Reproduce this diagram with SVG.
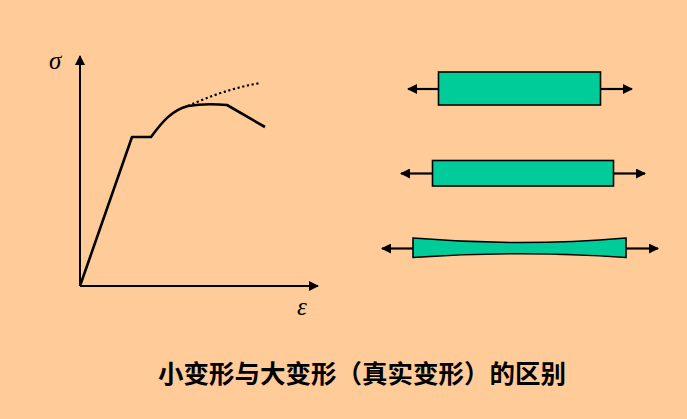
<svg xmlns="http://www.w3.org/2000/svg" width="687" height="419" viewBox="0 0 687 419">
<defs>
<marker id="ah" viewBox="0 0 10 10" refX="9" refY="5" markerWidth="10" markerHeight="10" markerUnits="userSpaceOnUse" orient="auto">
<path d="M0,0 L10,5 L0,10 Z" fill="#000"/>
</marker>
<style>
.ax{stroke:#000;stroke-width:2;fill:none}
.cv{stroke:#000;stroke-width:2.6;fill:none;stroke-linejoin:round}
.dot{stroke:#000;stroke-width:2.2;fill:none;stroke-dasharray:2.2 2.6}
.bar{fill:#00CC99;stroke:#000;stroke-width:1.6}
.ar{stroke:#000;stroke-width:2.2;fill:none}
.sym{font-family:"Liberation Serif",serif;font-style:italic;font-size:25px;fill:#000}
.title{font-family:"Noto Sans CJK SC",sans-serif;font-weight:bold;font-size:25.5px;fill:#000}
</style>
</defs>
<rect width="687" height="419" fill="#FFCC99"/>
<g id="axes">
<line class="ax" x1="80" y1="286" x2="80" y2="56" marker-end="url(#ah)"/>
<line class="ax" x1="80" y1="286" x2="318" y2="286" marker-end="url(#ah)"/>
<text class="sym" x="49" y="69">σ</text>
<text class="sym" x="297" y="315">ε</text>
</g>
<g id="curve">
<path class="cv" d="M80,286 L132,137 L151,137 C162,122 172,110 188,106 C200,104 215,104 227,105 L265,127"/>
<path class="dot" d="M188,106 C210,96 235,87 261,83"/>
</g>
<g id="bar1">
<line class="ar" x1="438" y1="89" x2="408" y2="89" marker-end="url(#ah)"/>
<line class="ar" x1="600" y1="89" x2="632" y2="89" marker-end="url(#ah)"/>
<rect class="bar" x="438.5" y="72" width="162" height="33"/>
</g>
<g id="bar2">
<line class="ar" x1="432" y1="173.5" x2="401" y2="173.5" marker-end="url(#ah)"/>
<line class="ar" x1="613" y1="173.5" x2="645" y2="173.5" marker-end="url(#ah)"/>
<rect class="bar" x="432.5" y="160.5" width="181" height="25.5"/>
</g>
<g id="bar3">
<line class="ar" x1="413" y1="248.5" x2="382" y2="248.5" marker-end="url(#ah)"/>
<line class="ar" x1="626" y1="248.5" x2="658" y2="248.5" marker-end="url(#ah)"/>
<path class="bar" d="M413,238 Q519.5,247 626,238 L626,257.5 Q519.5,250 413,257.5 Z"/>
</g>
<text class="title" x="158" y="383" textLength="408" lengthAdjust="spacing">小变形与大变形（真实变形）的区别</text>
</svg>
